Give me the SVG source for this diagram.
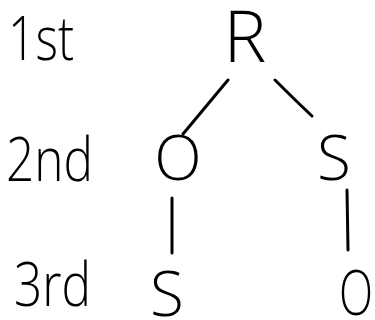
<svg xmlns="http://www.w3.org/2000/svg" width="375" height="320" viewBox="0 0 375 320">
<style>
.t{font-family:"Open Sans","Liberation Sans",sans-serif;font-weight:300;fill:#000}
.lbl{font-size:60px}
.n{font-size:62px;text-anchor:middle}
.e{stroke:#000;stroke-width:3;stroke-linecap:round;fill:none}
</style>
<rect width="375" height="320" fill="#fff"/>
<g id="labels">
<text class="t lbl" x="8" y="60" textLength="66" lengthAdjust="spacingAndGlyphs">1st</text>
<text class="t lbl" x="6" y="181" textLength="87" lengthAdjust="spacingAndGlyphs">2nd</text>
<text class="t lbl" x="14" y="306" textLength="77" lengthAdjust="spacingAndGlyphs">3rd</text>
</g>
<g id="edges">
<path class="e" d="M228,80 L183,134"/>
<path class="e" d="M275,80 Q295,100 312,116"/>
<path class="e" d="M172,198 L172,253"/>
<path class="e" d="M347,190 L348,250"/>
</g>
<g id="node-R"><text class="t n" x="245" y="62" style="font-size:72px">R</text></g>
<g id="node-O1"><text class="t n" x="178" y="180">O</text></g>
<g id="node-S1"><text class="t n" x="334" y="180">S</text></g>
<g id="node-S2"><text class="t n" x="167" y="316">S</text></g>
<g id="node-O2"><text class="t n" x="356" y="315" textLength="34" lengthAdjust="spacingAndGlyphs">O</text></g>
</svg>
